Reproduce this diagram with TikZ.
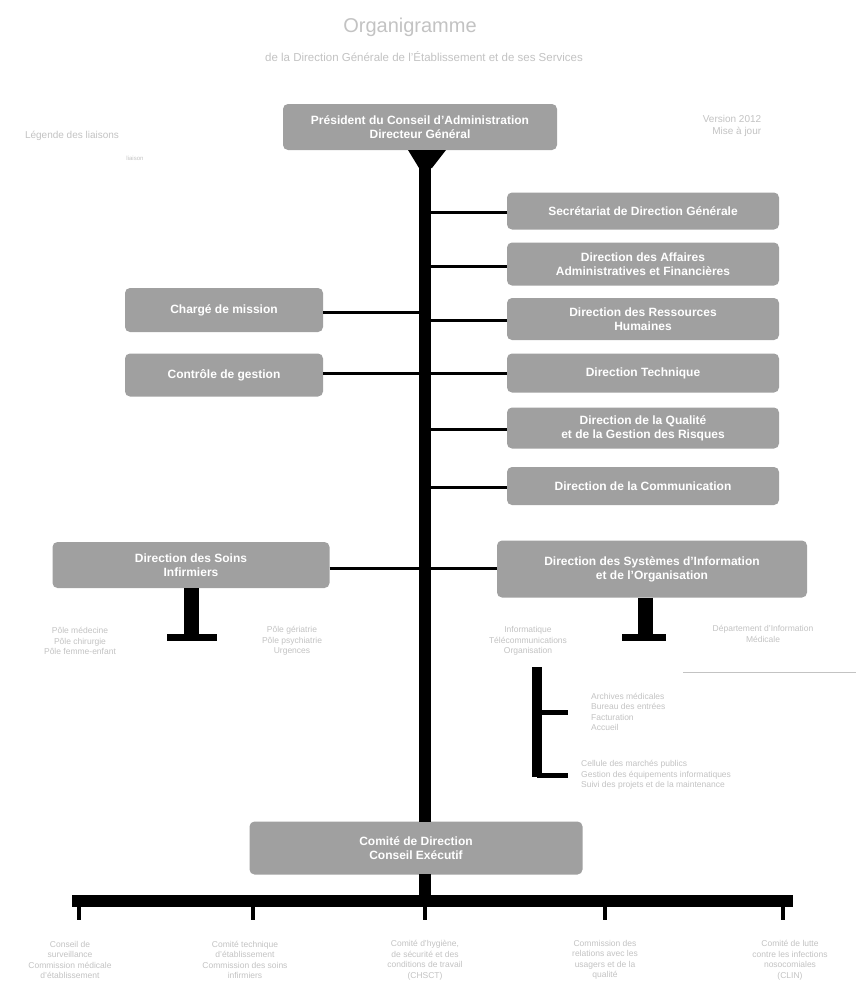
\documentclass[tikz,border=0pt]{standalone}
\usepackage{fontspec}
\setmainfont{Liberation Sans}
\begin{document}
\begin{tikzpicture}[x=1pt,y=-1pt,
  box/.style={fill=boxgray,rounded corners=5pt,inner sep=2pt,text=white,font=\bfseries\fontsize{12}{14}\selectfont,align=center},
  faint/.style={text=faintgray,font=\fontsize{8.5}{10.5}\selectfont,align=center,inner sep=1pt},
  spine/.style={line width=12pt,black},
  branch/.style={line width=3pt,black},
  stem/.style={line width=15pt,black},
  base/.style={line width=7pt,black},
  tick/.style={line width=4pt,black}]
\definecolor{boxgray}{RGB}{160,160,160}
\definecolor{faintgray}{RGB}{195,195,195}
\useasboundingbox (0,0) rectangle (856,990);
\fill[white] (0,0) rectangle (856,990);
% title
\node[text=faintgray,font=\fontsize{20}{22}\selectfont] (title) at (410,27) {Organigramme};
\node[text=faintgray,font=\fontsize{11.5}{13}\selectfont] (subtitle) at (424,57) {de la Direction Générale de l'Établissement et de ses Services};
% side notes
\node[faint,align=left,font=\fontsize{10}{12}\selectfont] (noteL) at (72,136) {Légende des liaisons};
\node[faint] (noteL2) at (135,158) {\fontsize{6}{7}\selectfont liaison};
\node[faint,align=right,font=\fontsize{10}{12}\selectfont] (noteR) at (732,126) {Version 2012\\Mise à jour};
% top box
\node[box,minimum width=274pt,minimum height=46pt] (top) at (420,127) {Président du Conseil d'Administration\\Directeur Général};
% right boxes
\node[box,minimum width=272pt,minimum height=37pt] (r1) at (643,211) {Secrétariat de Direction Générale};
\node[box,minimum width=272pt,minimum height=43pt] (r2) at (643,264) {Direction des Affaires\\Administratives et Financières};
\node[box,minimum width=272pt,minimum height=42pt] (r3) at (643,319) {Direction des Ressources\\Humaines};
\node[box,minimum width=272pt,minimum height=39pt] (r4) at (643,373) {Direction Technique};
\node[box,minimum width=272pt,minimum height=41pt] (r5) at (643,428) {Direction de la Qualité\\et de la Gestion des Risques};
\node[box,minimum width=272pt,minimum height=38pt] (r6) at (643,486) {Direction de la Communication};
% left boxes
\node[box,minimum width=198pt,minimum height=44pt] (l1) at (224,310) {Chargé de mission};
\node[box,minimum width=198pt,minimum height=43pt] (l2) at (224,375) {Contrôle de gestion};
% lower boxes
\node[box,minimum width=277pt,minimum height=46pt] (ll) at (191,565) {Direction des Soins\\Infirmiers};
\node[box,minimum width=310pt,minimum height=57pt] (lr) at (652,569) {Direction des Systèmes d'Information\\et de l'Organisation};
% bottom box
\node[box,minimum width=333pt,minimum height=53pt] (bot) at (416,848) {Comité de Direction\\Conseil Exécutif};
% spine
\fill[black] (408,150) -- (446,150) -- (432,168) -- (419,168) -- cycle;
\coordinate (spT) at (425,150);
\coordinate (barC) at (425,901);
\draw[spine] (spT) -- (425,822);
\draw[spine] (425,874) -- (barC);
% right branches
\foreach \n/\y in {r1/212, r2/266, r3/320, r4/373, r5/429, r6/487}
  \draw[branch] (431,\y) -- (\n.west |- 0,\y);
\foreach \n/\y in {l1/312, l2/373}
  \draw[branch] (\n.east |- 0,\y) -- (419,\y);
\draw[branch] (ll.east |- 0,568) -- (419,568);
\draw[branch] (431,568) -- (lr.west |- 0,568);
% stems under lower boxes
\coordinate (sL) at (191,640);
\coordinate (sR) at (645,640);
\draw[stem] (ll.south -| sL) -- (sL);
\draw[base] (167,637) -- (217,637);
\draw[stem] (lr.south -| sR) -- (sR);
\draw[base] (622,637) -- (666,637);
\node[faint] (tLL) at (80,641) {Pôle médecine\\Pôle chirurgie\\Pôle femme-enfant};
\node[faint] (tLR) at (292,641) {Pôle gériatrie\\Pôle psychiatrie\\Urgences};
\node[faint] (tRL) at (528,641) {Informatique\\Télécommunications\\Organisation};
\node[faint] (tRR) at (763,634) {Département d'Information\\Médicale};
\draw[faintgray,line width=0.8pt] (683,672) -- (856,672);
% bracket
\coordinate (bT) at (537,667);
\coordinate (bB) at (537,777);
\coordinate (b1) at (568,712);
\coordinate (b2) at (568,775);
\draw[line width=10pt] (bT) -- (bB);
\draw[line width=5pt] (537,712) -- (b1);
\draw[line width=5pt] (537,775) -- (b2);
\node[faint,align=left,anchor=west] (tb1) at (590,712) {Archives médicales\\Bureau des entrées\\Facturation\\Accueil};
\node[faint,align=left,anchor=west] (tb2) at (580,775) {Cellule des marchés publics\\Gestion des équipements informatiques\\Suivi des projets et de la maintenance};
% bottom bar
\coordinate (barL) at (72,901);
\coordinate (barR) at (793,901);
\draw[line width=12pt] (barL) -- (barR);
\foreach \x in {79,253,425,605,783}
  \draw[tick] (\x,905) -- (\x,920);
\node[faint] (c1) at (70,960) {Conseil de\\surveillance\\Commission médicale\\d'établissement};
\node[faint] (c2) at (245,960) {Comité technique\\d'établissement\\Commission des soins\\infirmiers};
\node[faint] (c3) at (425,960) {Comité d'hygiène,\\de sécurité et des\\conditions de travail\\(CHSCT)};
\node[faint] (c4) at (605,960) {Commission des\\relations avec les\\usagers et de la\\qualité};
\node[faint] (c5) at (790,960) {Comité de lutte\\contre les infections\\nosocomiales\\(CLIN)};
\end{tikzpicture}
\end{document}
